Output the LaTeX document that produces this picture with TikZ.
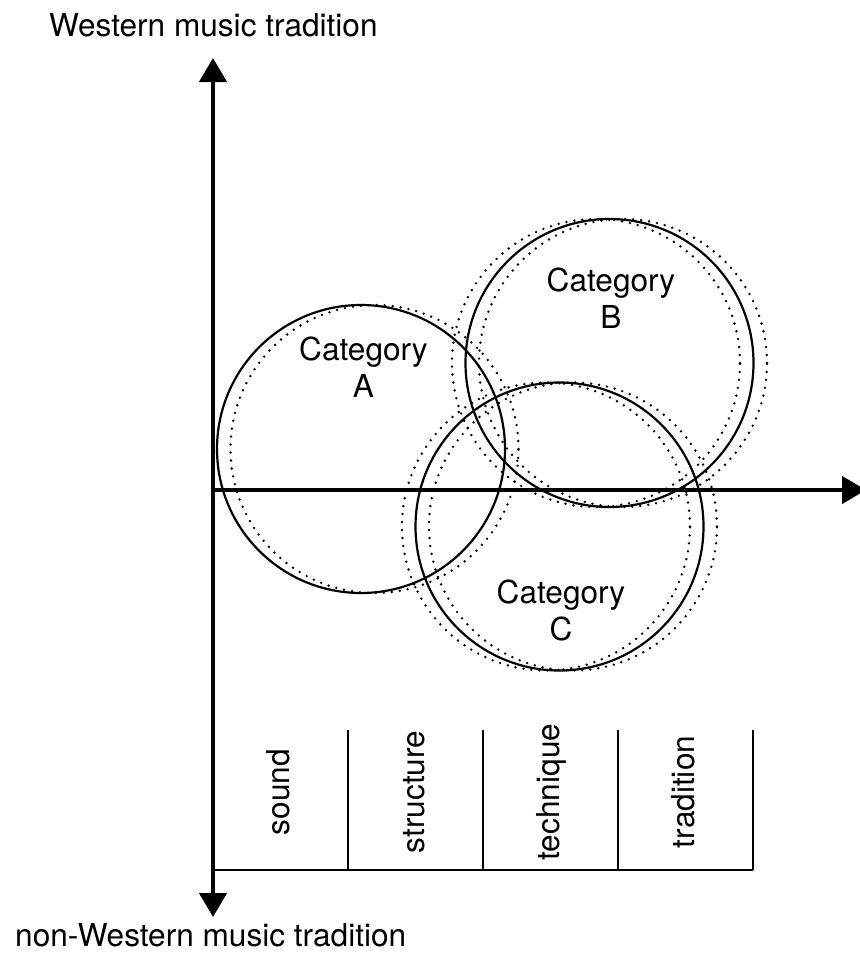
\documentclass[tikz,border=0pt]{standalone}
\usepackage{fontspec}
\setmainfont{TeX Gyre Heros}
\usetikzlibrary{arrows.meta}
\begin{document}
\begin{tikzpicture}[x=1pt,y=-1pt,
	font=\fontsize{31.6}{37}\selectfont,
	>={Triangle[length=24pt,width=27pt]},
	axis/.style={line width=4.5pt},
	ring/.style={line width=2.2pt},
	shifted ring/.style={line width=2.7pt,line cap=round,dash pattern=on 0pt off 8pt},
	cell/.style={line width=2pt}]
		\useasboundingbox (0,0) rectangle (859,958);
		\coordinate (v1) at (213,917);
		\coordinate (v2) at (213,58);
		\coordinate (v3) at (213,490);
		\coordinate (v4) at (866,490);
		\node[anchor=base west,inner sep=0] (v5) at (49,36.7) {Western music tradition};
		\node[anchor=base west,inner sep=0] (v6) at (15,946) {non-Western music tradition};
		\draw [axis,<->] (v1) -- (v2);
		\draw [axis,->] (v3) -- (v4);
		% categories
		\draw [ring] (361,449) circle [radius=144pt];
		\draw [shifted ring] (374.5,449) circle [radius=144pt];
		\draw [ring] (609.5,363) circle [radius=144pt];
		\draw [shifted ring] (596,363) circle [radius=144pt];
		\draw [shifted ring] (623,363) circle [radius=144pt];
		\draw [ring] (559.5,526.5) circle [radius=144pt];
		\draw [shifted ring] (546,526.5) circle [radius=144pt];
		\draw [shifted ring] (573,526.5) circle [radius=144pt];
		\node[align=center] (v7) at (363.5,367.5) {Category\\A};
		\node[align=center] (v8) at (611,298.5) {Category\\B};
		\node[align=center] (v9) at (561,610) {Category\\C};
		% aspects
		\draw [cell] (213,870) -- (753,870);
		\draw [cell] (348,730) -- (348,870);
		\draw [cell] (483,730) -- (483,870);
		\draw [cell] (618,730) -- (618,870);
		\draw [cell] (753,730) -- (753,870);
		\node[rotate=90,anchor=base] (v10) at (289,792) {sound};
		\node[rotate=90,anchor=base] (v11) at (424,792) {structure};
		\node[rotate=90,anchor=base] (v12) at (559,792) {technique};
		\node[rotate=90,anchor=base] (v13) at (694,792) {tradition};
\end{tikzpicture}
\end{document}
